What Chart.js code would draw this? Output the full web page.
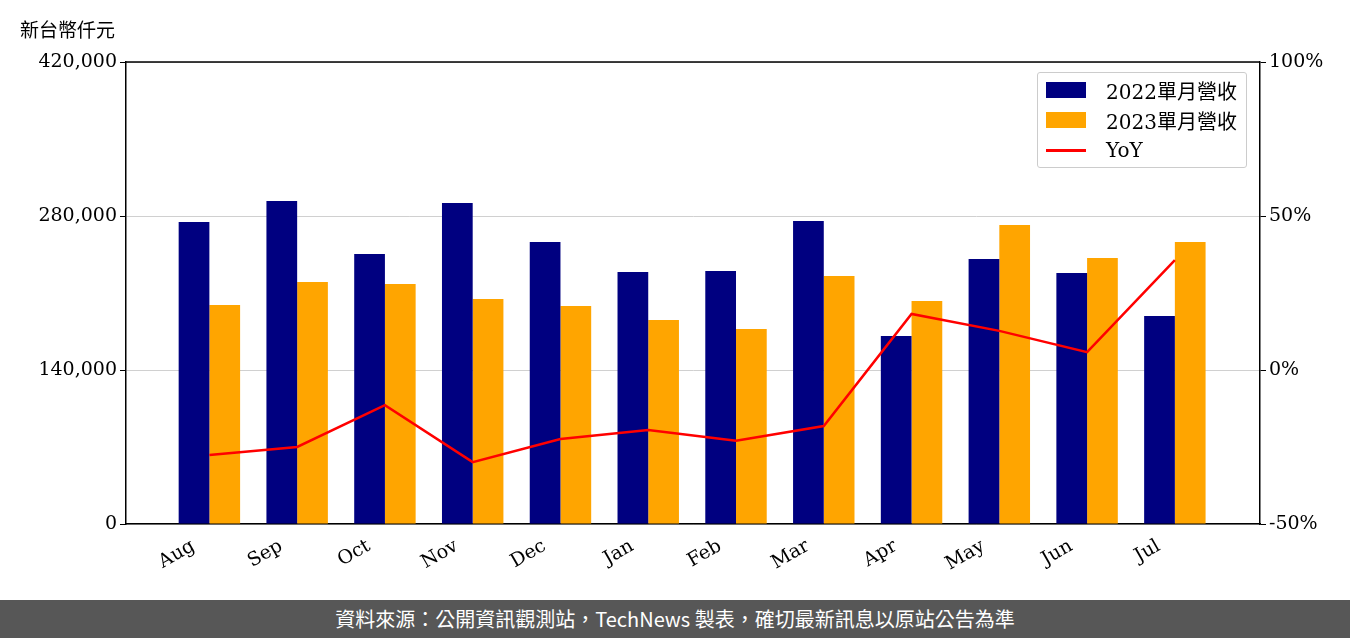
<!DOCTYPE html>
<html>
<head>
<meta charset="utf-8">
<script src="https://cdn.jsdelivr.net/npm/chart.js@4"></script>
<style>
body { margin: 0; width: 1350px; height: 638px; background: #fff; overflow: hidden; position: relative; font-family: "DejaVu Serif", serif; }
#wrap { position: absolute; left: 0; top: 0; width: 1350px; height: 600px; }
#unit { position: absolute; left: 20px; top: 15px; font: 19px "Noto Sans CJK TC", sans-serif; color: #000; }
#legend { position: absolute; left: 1037px; top: 72px; width: 208px; height: 94px; border: 1px solid #ccc; border-radius: 3px; background: rgba(255,255,255,0.8); font: 20px "DejaVu Serif", "Noto Sans CJK TC", serif; }
.li { position: absolute; left: 8px; height: 30px; display: flex; align-items: center; }
.sw { width: 40px; height: 16px; margin-right: 20px; }
#footer { position: absolute; left: 0; top: 600px; width: 1350px; height: 38px; background: #575757; color: #fff; font: 20px "Noto Sans CJK TC", sans-serif; text-align: center; line-height: 38px; }
</style>
</head>
<body>
<div id="wrap"><canvas id="c"></canvas></div>
<div id="unit">新台幣仟元</div>
<div id="legend">
  <div class="li" style="top:2px"><div class="sw" style="background:#000080"></div>2022單月營收</div>
  <div class="li" style="top:32px"><div class="sw" style="background:#ffa500"></div>2023單月營收</div>
  <div class="li" style="top:62px"><div class="sw" style="height:3px;background:#ff0000"></div>YoY</div>
</div>
<div id="footer">資料來源：公開資訊觀測站，TechNews 製表，確切最新訊息以原站公告為準</div>
<script>
// 月份
const months = ['Aug', 'Sep', 'Oct', 'Nov', 'Dec', 'Jan', 'Feb', 'Mar', 'Apr', 'May', 'Jun', 'Jul'];
// 單月營收（仟元）
const rev2022 = [274500, 293600, 245500, 291800, 256400, 229100, 230000, 275500, 170900, 240900, 228200, 189100];
const rev2023 = [199100, 220000, 218200, 204500, 198200, 185500, 177300, 225500, 202700, 271800, 241800, 256400];
// 年增率 (%)
const yoy = [-27.6, -25.0, -11.4, -29.9, -22.4, -19.5, -23.0, -18.2, 18.2, 12.7, 5.8, 35.7];

const serif = { family: 'DejaVu Serif', size: 19 };
const pts = (arr) => arr.map((v, i) => ({ x: i, y: v }));

new Chart(document.getElementById('c'), {
    data: {
        datasets: [{
            type: 'line',
            label: 'YoY',
            data: pts(yoy),
            yAxisID: 'y1',
            borderColor: '#ff0000',
            borderWidth: 2.5,
            pointRadius: 0,
            tension: 0,
            order: 0,
        }, {
            type: 'bar',
            label: '2022單月營收',
            data: pts(rev2022),
            yAxisID: 'y',
            backgroundColor: '#000080',
            categoryPercentage: 0.7,
            barPercentage: 1,
            order: 1,
        }, {
            type: 'bar',
            label: '2023單月營收',
            data: pts(rev2023),
            yAxisID: 'y',
            backgroundColor: '#ffa500',
            categoryPercentage: 0.7,
            barPercentage: 1,
            order: 1,
        }]
    },
    options: {
        responsive: true,
        maintainAspectRatio: false,
        animation: false,
        layout: { padding: { top: 62, left: 0, right: 0, bottom: 0 } },
        plugins: { legend: { display: false }, tooltip: { enabled: false } },
        scales: {
            x: {
                type: 'linear',
                min: -0.95, max: 11.97,
                offset: false,
                grid: { display: false },
                border: { color: '#000', width: 1.5 },
                ticks: {
                    color: '#000', font: serif, maxRotation: 30, minRotation: 30,
                    stepSize: 1, autoSkip: false, labelOffset: -16,
                    callback: (v) => Number.isInteger(v) && months[v] ? months[v] : '',
                },
                afterBuildTicks: (s) => { s.ticks = months.map((m, i) => ({ value: i })); },
                afterFit: (s) => { s.height = 76; },
            },
            y: {
                min: 0, max: 420000,
                border: { color: '#000', width: 1.5 },
                grid: { color: '#d0d0d0', drawTicks: true, tickColor: '#000', tickLength: 6 },
                ticks: { stepSize: 140000, color: '#000', font: serif, callback: (v) => v.toLocaleString('en-US') },
                afterFit: (s) => { s.width = 126; },
            },
            y1: {
                position: 'right',
                min: -50, max: 100,
                border: { color: '#000', width: 1.5 },
                grid: { drawOnChartArea: false, tickColor: '#000', tickLength: 6 },
                ticks: { stepSize: 50, color: '#000', font: serif, callback: (v) => v + '%' },
                afterFit: (s) => { s.width = 90; },
            }
        }
    },
    plugins: [{
        id: 'topBorder',
        afterDraw(chart) {
            const { ctx, chartArea: a } = chart;
            ctx.save();
            ctx.strokeStyle = '#000';
            ctx.lineWidth = 1.5;
            ctx.beginPath();
            ctx.moveTo(a.left, a.top);
            ctx.lineTo(a.right, a.top);
            ctx.stroke();
            ctx.restore();
        }
    }]
});
</script>
</body>
</html>
